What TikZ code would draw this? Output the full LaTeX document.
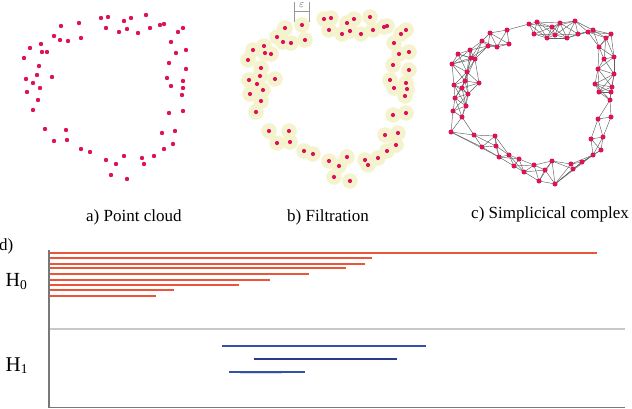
\documentclass[tikz,border=0pt]{standalone}
\usepackage{fontspec}
\setmainfont{Liberation Serif}
\definecolor{dotc}{RGB}{222,18,90}
\definecolor{haloc}{RGB}{245,243,206}
\definecolor{barred}{RGB}{233,86,58}
\definecolor{barblue}{RGB}{48,82,170}
\definecolor{barnavy}{RGB}{40,60,140}
\definecolor{sepgray}{RGB}{200,200,200}
\definecolor{axisgray}{RGB}{120,120,120}
\tikzset{
  ptdot/.style={fill=dotc},
  halodisk/.style={fill=haloc},
  edge/.style={draw=black!62,line width=0.45pt},
  redbar/.style={draw=barred,line width=1.8pt},
  bluebar/.style={draw=barblue,line width=2pt},
  lbl/.style={font=\fontsize{17}{19}\selectfont,inner sep=0pt},
  hlbl/.style={inner sep=0pt},
  epsline/.style={draw=black!40,line width=0.7pt}
}
\def\pcpts{101/18,108/17,146/15,131/18,124/21,61/26,79/23,106/28,127/29,119/32,138/33,150/28,160/25,164/24,183/28,178/32,54/36,60/40,68/41,81/38,41/44,30/48,42/52,47/52,24/58,171/42,176/53,186/50,169/63,186/69,39/66,37/75,26/79,52/77,33/83,40/88,27/92,38/100,33/110,167/78,171/86,183/81,183/88,182/95,169/113,183/111,45/129,66/130,54/141,67/140,81/149,90/152,106/160,116/164,124/156,111/175,127/179,142/158,144/164,154/156,162/133,175/131,173/144,164/149}
\def\flpts{302/25,285/28,324/19,331/18,347/23,354/19,370/17,329/30,342/34,350/31,361/34,373/30,384/27,387/26,406/30,401/34,277/37,283/42,291/43,305/40,264/46,253/50,265/53,271/54,248/60,394/43,399/54,409/52,393/65,409/70,261/68,260/76,249/80,275/79,257/84,263/90,250/94,261/101,256/112,390/80,394/88,406/83,407/89,405/96,393/115,406/113,269/131,289/131,277/143,290/142,304/151,313/154,329/161,339/166,347/157,334/177,350/181,365/160,368/165,378/158,385/135,398/133,396/145,387/151}
\def\scpts{529/24,537/22,552/27,560/23,575/21,490/33,507/30,534/34,547/38,555/35,567/38,578/34,588/32,593/30,611/34,606/38,482/41,488/46,497/47,509/44,470/50,458/54,471/58,475/59,452/64,599/47,604/59,614/57,598/69,614/74,467/72,465/81,454/85,479/83,462/88,468/94,455/98,466/106,453/111,462/117,595/84,599/92,612/87,611/92,610/100,598/119,611/117,451/132,474/135,495/136,482/147,496/146,499/157,509/155,514/166,519/159,524/172,534/165,545/170,539/181,552/161,555/184,571/164,573/169,582/162,591/139,603/137,601/150,593/155}
\begin{document}
\begin{tikzpicture}[x=1pt,y=-1pt]
\useasboundingbox (0,0) rectangle (632,408);
% a) point cloud
\foreach \px/\py in \pcpts { \fill[ptdot] (\px,\py) circle (2.2); }
% b) filtration
\foreach \px/\py in \flpts { \fill[halodisk] (\px,\py) circle (7.8); }
\foreach \px/\py in \flpts { \fill[ptdot] (\px,\py) circle (2.1); }
\draw[epsline] (294.5,2) -- (294.5,22) (309,2) -- (309,22) (294.5,11) -- (309,11);
\node[inner sep=0pt,text=black!70,font=\fontsize{11}{11}\selectfont] (eps) at (301.7,5.5) {$\varepsilon$};
% c) simplicial complex
\foreach [count=\i] \xa/\ya in \scpts {
  \foreach [count=\j] \xb/\yb in \scpts {
    \ifnum\j>\i
      \pgfmathtruncatemacro\ok{veclen(\xb-\xa,\yb-\ya)<24.5}
      \ifnum\ok=1 \draw[edge] (\xa,\ya) -- (\xb,\yb); \fi
    \fi
  }
}
\foreach \xa/\ya/\xb/\yb in {451/132/482/147,451/132/499/157,555/184/582/162,555/184/593/155,555/184/571/164,474/135/496/146}
  { \draw[edge] (\xa,\ya) -- (\xb,\yb); }
\foreach \px/\py in \scpts { \fill[ptdot] (\px,\py) circle (2.5); }
% captions
\node[lbl,anchor=base west] (capa) at (86,221) {a) Point cloud};
\node[lbl,anchor=base west] (capb) at (287,221) {b) Filtration};
\node[lbl,anchor=base west] (capc) at (471,218) {c) Simplicical complex};
\node[lbl,anchor=base west] (capd) at (-1,250) {d)};
% barcode
\draw[draw=sepgray,line width=2pt] (49,328.7) -- (625,328.7);
\foreach \y/\e in {252.7/597,258.3/372,263.7/365,268.3/346,274/309,279.7/270,285/239,290/174,295.7/156}
  { \draw[redbar] (49,\y) -- (\e,\y); }
\draw[bluebar] (222,346.3) -- (426,346.3);
\draw[bluebar,draw=barnavy] (254,359.3) -- (397,359.3);
\draw[draw=black!15,line width=1.2pt] (240,373.5) -- (282,373.5);
\draw[bluebar] (229,372) -- (305,372);
\draw[draw=axisgray,line width=1.5pt] (49,250) -- (49,407.3) -- (625,407.3);
\node[hlbl,anchor=base west] (h0) at (5.5,286) {\fontsize{20}{20}\selectfont H\raisebox{-3.5pt}{\fontsize{13.5}{13.5}\selectfont 0}};
\node[hlbl,anchor=base west] (h1) at (5.5,371) {\fontsize{21}{21}\selectfont H\raisebox{-2.5pt}{\fontsize{13.5}{13.5}\selectfont 1}};
\end{tikzpicture}
\end{document}
